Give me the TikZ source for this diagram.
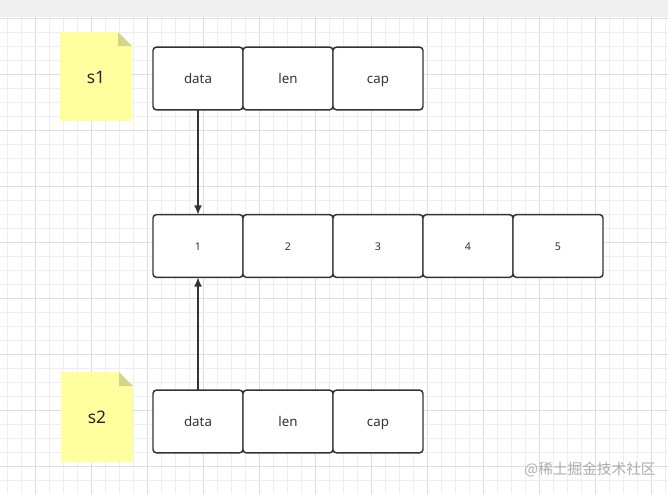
\documentclass[tikz,border=0pt]{standalone}
\usepackage{fontspec}
\setmainfont{Noto Sans}
\newfontfamily\cjkfont{Noto Sans CJK SC}
\usepackage{tikz}
\usetikzlibrary{positioning}
\usetikzlibrary{arrows.meta}
\usepackage{xcolor}
\definecolor{gridminor}{RGB}{238,238,238}
\definecolor{gridmajor}{RGB}{222,222,222}
\definecolor{topband}{RGB}{240,240,240}
\definecolor{notefill}{RGB}{255,255,160}
\definecolor{notefold}{RGB}{212,212,138}
\definecolor{boxline}{RGB}{51,51,51}
\tikzset{
    cell/.style={draw=boxline, fill=white, line width=1.1pt,
        rounded corners=2.5pt, minimum width=67.5pt, minimum height=47pt,
        outer sep=0pt, text=boxline, text height=1.6ex, text depth=0.3ex,
        font=\fontsize{10}{12}\selectfont},
    numcell/.style={cell, font=\fontsize{8}{10}\selectfont},
    notetext/.style={text=black!85, font=\fontsize{13}{15}\selectfont},
    ptr/.style={draw=boxline, line width=1.1pt, -{Latex[length=7pt,width=6pt]}},
}

\begin{document}
\begin{tikzpicture}[x=0.75pt,y=-0.75pt]
                \useasboundingbox (0,0) rectangle (668,494);
                % grid paper
                \foreach \k in {0,...,47}{
                    \pgfmathtruncatemacro{\m}{mod(\k,4)}
                    \ifnum\m=2 \draw[gridmajor,line width=0.6pt] ({7.7+14*\k},17) -- ({7.7+14*\k},494);
                    \else \draw[gridminor,line width=0.6pt] ({7.7+14*\k},17) -- ({7.7+14*\k},494); \fi
                }
                \foreach \k in {0,...,33}{
                    \pgfmathtruncatemacro{\m}{mod(\k,4)}
                    \ifnum\m=0 \draw[gridmajor,line width=0.6pt] (0,{18.7+14*\k}) -- (668,{18.7+14*\k});
                    \else \draw[gridminor,line width=0.6pt] (0,{18.7+14*\k}) -- (668,{18.7+14*\k}); \fi
                }
                \fill[topband] (0,0) rectangle (668,17);
                % sticky notes
                \fill[notefill] (60,32) -- (118,32) -- (132,46) -- (132,121) -- (60,121) -- cycle;
                \fill[notefold] (118,32) -- (118,46) -- (132,46) -- cycle;
                \fill[notefill] (61,372) -- (119,372) -- (133,386) -- (133,462) -- (61,462) -- cycle;
                \fill[notefold] (119,372) -- (119,386) -- (133,386) -- cycle;
                \node[notetext] (s1) at (96,77) {s1};
                \node[notetext] (s2) at (97,417) {s2};
                % slice headers
                \node[cell] (data1) at (198,78.5) {data};
                \node[cell, right=0pt of data1] (len1) {len};
                \node[cell, right=0pt of len1] (cap1) {cap};
                \node[cell] (data2) at (198,421.5) {data};
                \node[cell, right=0pt of data2] (len2) {len};
                \node[cell, right=0pt of len2] (cap2) {cap};
                % backing array
                \node[numcell] (a1) at (198,246) {1};
                \foreach \i [count=\j from 1] in {2,...,5}{
                    \node[numcell, right=0pt of a\j] (a\i) {\i};
                }
                \draw[ptr] (data1.south) -- (a1.north);
                \draw[ptr] (data2.north) -- (a1.south);
                \node[text=black!32, font=\cjkfont\fontsize{11}{13}\selectfont] (wm) at (590,470) {@稀土掘金技术社区};
            \end{tikzpicture}
\end{document}
